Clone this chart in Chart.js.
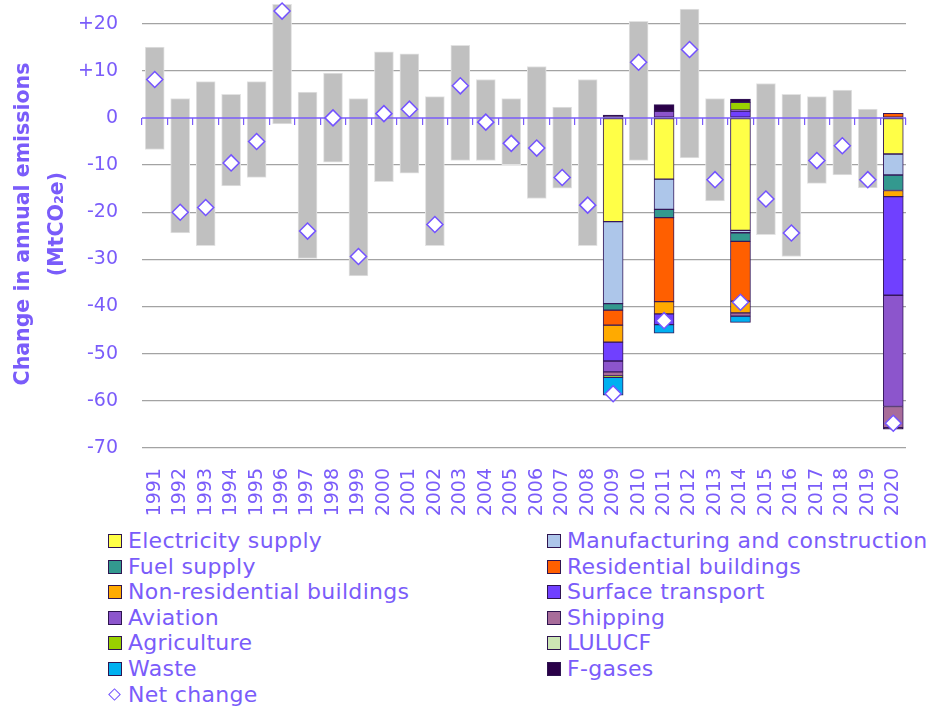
<!DOCTYPE html>
<html><head><meta charset="utf-8">
<script src="https://cdn.jsdelivr.net/npm/chart.js@4.4.0/dist/chart.umd.min.js"></script>
<style>
html,body{margin:0;padding:0;background:#fff;}
#wrap{position:relative;width:951px;height:708px;overflow:hidden;background:#fff;}
#c{position:absolute;left:0;top:0;}
.lg{position:absolute;font-family:'DejaVu Sans';font-size:22px;color:#7A5CFA;letter-spacing:0.3px;white-space:nowrap;line-height:26px;height:26px;}
.lg .box{position:absolute;left:-20px;top:6px;width:12px;height:12px;border:1px solid #2E1450;}
.lg .dia{position:absolute;left:-18px;top:8px;width:7px;height:7px;border:1.5px solid #7352FF;background:#fff;transform:rotate(45deg);}
</style>
</head><body>
<div id="wrap">
<canvas id="c" width="951" height="520"></canvas>
<div id="legend"></div>
</div>
<script>
// ---- data ----
const years = ['1991','1992','1993','1994','1995','1996','1997','1998','1999','2000',
               '2001','2002','2003','2004','2005','2006','2007','2008','2009','2010',
               '2011','2012','2013','2014','2015','2016','2017','2018','2019','2020'];
// grey range bars (low / high), null where the year is broken down by sector
const rangeLow  = [-6.7,-24.4,-27.1,-14.4,-12.6,-1.3,-29.8,-9.4,-33.5,-13.5,
                   -11.7,-27.1,-9.0,-9.0,-9.9,-17.1,-14.9,-27.1,null,-9.0,
                   null,-8.5,-17.6,null,-24.75,-29.4,-13.9,-12.1,-14.85,null];
const rangeHigh = [15.0,4.1,7.7,5.0,7.7,24.1,5.5,9.5,4.1,14.0,
                   13.6,4.5,15.4,8.15,4.1,10.9,2.3,8.15,null,20.5,
                   null,23.1,4.1,null,7.3,5.0,4.5,5.9,1.85,null];
const netChange = [8.15,-20.0,-19.0,-9.55,-5.0,22.65,-24.0,0,-29.4,0.9,
                   1.85,-22.6,6.8,-0.9,-5.4,-6.4,-12.65,-18.5,-58.5,11.8,
                   -43.0,14.5,-13.1,-39.1,-17.2,-24.4,-9.05,-5.9,-13.1,-64.75];
// years with sector breakdown
const stackYears = ['2009','2011','2014','2020'];
const electricitySupply = [-22.0, -13.0, -23.85, -7.65];
const manufacturing     = [-17.4, -6.4, -0.5, -4.45];
const fuelSupply        = [-1.35, -1.75, -1.85, -3.3];
const residential       = [-3.2, -17.8, -12.65, 0.95];
const nonResidential    = [-3.6, -2.6, -2.5, -1.3];
const surfaceTransport  = [-4.0, -2.3, 1.45, -20.9];
const aviation          = [-2.3, 1.4, 0.2, -23.6];
const shipping          = [-0.85, null, -0.7, -4.5];
const agriculture       = [-0.3, null, 1.65, null];
const lulucf            = [null, null, null, null];
const waste             = [-3.8, -1.8, -1.3, null];
const fGases            = [0.6, 1.4, 0.7, -0.3];

const sectorNames = ['Electricity supply','Manufacturing and construction','Fuel supply','Residential buildings',
  'Non-residential buildings','Surface transport','Aviation','Shipping','Agriculture','LULUCF','Waste','F-gases'];
const sectorValues = [electricitySupply, manufacturing, fuelSupply, residential, nonResidential,
  surfaceTransport, aviation, shipping, agriculture, lulucf, waste, fGases];
const sectorColors = ['#FFFF47','#ADC6EA','#33998F','#FF5F00','#FFAA00','#7040FF','#8C55CC','#A86C9A',
  '#99D000','#CCE6B4','#00B0F0','#2A0048'];

const violet = '#7A5CFA';

function expand(arr){ return years.map(y => { const k = stackYears.indexOf(y); return k < 0 ? null : arr[k]; }); }

const datasets = [];
datasets.push({type:'line', label:'Net change', data: netChange, showLine:false, pointStyle:'rectRot',
  pointRadius:8, pointHoverRadius:8, pointBackgroundColor:'#fff', pointBorderColor:'#7352FF', pointBorderWidth:1.5, order:0, clip:false});
sectorNames.forEach((n,i) => datasets.push({type:'bar', label:n, data: expand(sectorValues[i]),
  backgroundColor: sectorColors[i], borderColor:'#35185A', borderWidth:1, borderSkipped:false,
  stack:'sectors', barThickness:20, order:1}));
datasets.push({type:'bar', label:'Range', data: years.map((y,i)=> rangeLow[i]==null ? null : [rangeLow[i], rangeHigh[i]]),
  backgroundColor:'#C0C0C0', borderColor:'#E2E2E2', borderWidth:1, borderSkipped:false,
  stack:'range', grouped:false, barThickness:19, order:2});

const zeroLine = {
  id:'zeroLine',
  afterDatasetDraw(chart, args){
    if (chart.data.datasets[args.index].stack !== 'range') return;
    const y = chart.scales.y.getPixelForValue(0);
    const {left, right} = chart.chartArea;
    const ctx = chart.ctx;
    ctx.save(); ctx.strokeStyle = violet; ctx.lineWidth = 1.5;
    ctx.beginPath(); ctx.moveTo(left, y); ctx.lineTo(right, y); ctx.stroke(); ctx.restore();
  }
};

new Chart(document.getElementById('c'), {
  data: {labels: years, datasets},
  plugins: [zeroLine],
  options: {
    responsive:false, animation:false,
    layout:{autoPadding:false, padding:{left:0, right:45, top:0, bottom:0}},
    plugins:{legend:{display:false}, tooltip:{enabled:false}},
    scales:{
      x:{type:'category', stacked:true, offset:true, grid:{display:false}, border:{display:false},
        ticks:{color:violet, font:{family:'DejaVu Sans', size:19}, minRotation:90, maxRotation:90, autoSkip:false, padding:12},
        afterFit(s){ s.height = 72; }},
      x2:{type:'category', position:{y:0}, offset:true,
        grid:{display:true, drawOnChartArea:false, drawTicks:true, tickLength:7, color:violet, lineWidth:1.2, offset:true},
        border:{display:false}, ticks:{display:false},
        afterFit(s){ s.height = 0; s.paddingTop = 0; s.paddingBottom = 0; s.paddingLeft = 0; s.paddingRight = 0; }},
      y:{stacked:true, min:-70, max:25, position:'left',
        ticks:{stepSize:10, color:violet, font:{family:'DejaVu Sans', size:19}, padding:24,
          callback: v => v === 25 ? null : (v > 0 ? '+' + v : String(v))},
        grid:{color: c => (c.tick && c.tick.value === 0) ? 'rgba(0,0,0,0)' : '#A3A3A3', lineWidth:1.3, drawTicks:false},
        border:{display:false},
        title:{display:true, text:['Change in annual emissions','(MtCO\u2082e)'], color:violet,
          font:{family:'DejaVu Sans', size:20.5, weight:'bold', lineHeight:1.66}, padding:{top:7, bottom:0}},
        afterFit(s){ s.width = 142; s.paddingTop = 0; }}
    }
  }
});

// ---- HTML legend (two columns, row-major like the reference) ----
const legendItems = sectorNames.map((n,i)=>({name:n, color:sectorColors[i]})).concat([{name:'Net change', diamond:true}]);
const legend = document.getElementById('legend');
legendItems.forEach((it, i) => {
  const row = Math.floor(i/2), col = i % 2;
  const d = document.createElement('div');
  d.className = 'lg';
  d.style.left = (col === 0 ? 128 : 567) + 'px';
  d.style.top = (541 + row*25.6 - 13) + 'px';
  const mk = document.createElement('span');
  if (it.diamond) { mk.className = 'dia'; }
  else { mk.className = 'box'; mk.style.background = it.color; }
  d.appendChild(mk);
  d.appendChild(document.createTextNode(it.name));
  legend.appendChild(d);
});
</script>
</body></html>
